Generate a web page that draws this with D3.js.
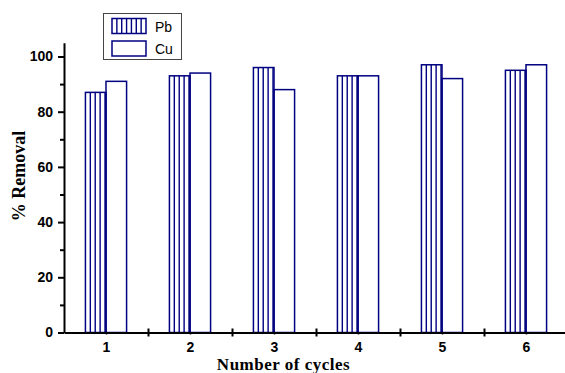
<!DOCTYPE html>
<html>
<head>
<meta charset="utf-8">
<script src="https://cdn.jsdelivr.net/npm/d3@7"></script>
<style>
  html, body { margin: 0; padding: 0; background: #fff; }
  svg { display: block; }
</style>
</head>
<body>
<svg id="chart" width="565" height="373"></svg>
<script>
// Removal efficiency over repeated adsorption cycles
const cycles = [1, 2, 3, 4, 5, 6];
const pbValues = [87, 93, 96, 93, 97, 95];
const cuValues = [91, 94, 88, 93, 92, 97];
const seriesNames = ["Pb", "Cu"];
const yMajorTicks = [0, 20, 40, 60, 80, 100];
const yMinorTicks = [10, 30, 50, 70, 90];

const navy = "#000080";
const svg = d3.select("#chart");

const x = d3.scaleLinear().domain([0.5, 6.5]).range([64, 568]);
const y = d3.scaleLinear().domain([0, 105]).range([332.5, 42.7]);
const barW = 0.245; // bar width in category units

const bars = svg.append("g");

// Pb bars (vertical hatching), left of each cycle position
cycles.forEach((c, i) => {
  const x0 = x(c - barW), x1 = x(c);
  const top = y(pbValues[i]), bottom = y(0);
  const g = bars.append("g");
  const step = (x1 - x0) / 4.2;
  d3.range(1, 5).forEach(k => {
    g.append("line")
      .attr("x1", x0 + k * step).attr("x2", x0 + k * step)
      .attr("y1", top).attr("y2", bottom)
      .attr("stroke", navy).attr("stroke-width", 1.4);
  });
  g.append("rect")
    .attr("x", x0).attr("y", top)
    .attr("width", x1 - x0).attr("height", bottom - top)
    .attr("fill", "none").attr("stroke", navy).attr("stroke-width", 1.5);
});

// Cu bars (open), right of each cycle position
cycles.forEach((c, i) => {
  const x0 = x(c), x1 = x(c + barW);
  const top = y(cuValues[i]), bottom = y(0);
  bars.append("rect")
    .attr("x", x0).attr("y", top)
    .attr("width", x1 - x0).attr("height", bottom - top)
    .attr("fill", "none").attr("stroke", navy).attr("stroke-width", 1.5);
});

const labelFont = "'Liberation Sans', Arial, sans-serif";
const titleFont = "'Liberation Serif', 'Times New Roman', serif";

// Y axis: major ticks with labels, shorter minor ticks
const yAxis = svg.append("g").attr("transform", `translate(${x(0.5)},0)`)
  .call(d3.axisLeft(y).tickValues(yMajorTicks).tickSize(6).tickSizeOuter(0).tickPadding(5));
yAxis.select(".domain").attr("stroke", "#000").attr("stroke-width", 2);
yAxis.selectAll(".tick line").attr("stroke", "#000").attr("stroke-width", 2);
yAxis.selectAll(".tick text")
  .attr("font-family", labelFont).attr("font-weight", "bold").attr("font-size", 14).attr("fill", "#000");

const yMinor = svg.append("g").attr("transform", `translate(${x(0.5)},0)`)
  .call(d3.axisLeft(y).tickValues(yMinorTicks).tickSize(4).tickFormat(""));
yMinor.select(".domain").remove();
yMinor.selectAll(".tick line").attr("stroke", "#000").attr("stroke-width", 2);

// X axis: category labels with short ticks; boundary ticks crossing the axis line
const xAxis = svg.append("g").attr("transform", `translate(0,${y(0)})`)
  .call(d3.axisBottom(x).tickValues(cycles).tickSize(2).tickSizeOuter(0).tickPadding(8).tickFormat(d3.format("d")));
xAxis.select(".domain").attr("stroke", "#000").attr("stroke-width", 2);
xAxis.selectAll(".tick line").attr("stroke", "#000").attr("stroke-width", 1.5);
xAxis.selectAll(".tick text")
  .attr("font-family", labelFont).attr("font-weight", "bold").attr("font-size", 14).attr("fill", "#000");

const xMajor = svg.append("g").attr("transform", `translate(0,${y(0)})`)
  .call(d3.axisBottom(x).tickValues([1.5, 2.5, 3.5, 4.5, 5.5]).tickSize(4).tickFormat(""));
xMajor.select(".domain").remove();
xMajor.selectAll(".tick line").attr("y1", -4).attr("y2", 4).attr("stroke", "#000").attr("stroke-width", 2);

// Axis titles
svg.append("text")
  .attr("x", 283.5).attr("y", 369.8)
  .attr("text-anchor", "middle")
  .attr("font-family", titleFont).attr("font-weight", "bold").attr("font-size", 17)
  .attr("letter-spacing", 0.5)
  .text("Number of cycles");

svg.append("text")
  .attr("transform", "translate(24.5,176) rotate(-90)")
  .attr("text-anchor", "middle")
  .attr("font-family", titleFont).attr("font-weight", "bold").attr("font-size", 18)
  .text("% Removal");

// Legend
const legend = svg.append("g");
legend.append("rect")
  .attr("x", 103.5).attr("y", 13.5).attr("width", 78).attr("height", 46)
  .attr("fill", "#fff").attr("stroke", "#444").attr("stroke-width", 1);

const sw = { x: 112, w: 34, h: 15 };
seriesNames.forEach((name, i) => {
  const sy = 18.5 + i * 22.5;
  if (i === 0) {
    const step = sw.w / 7;
    d3.range(1, 7).forEach(k => {
      legend.append("line")
        .attr("x1", sw.x + k * step).attr("x2", sw.x + k * step)
        .attr("y1", sy).attr("y2", sy + sw.h)
        .attr("stroke", navy).attr("stroke-width", 1.4);
    });
  }
  legend.append("rect")
    .attr("x", sw.x).attr("y", sy).attr("width", sw.w).attr("height", sw.h)
    .attr("fill", "none").attr("stroke", navy).attr("stroke-width", 1.5);
  legend.append("text")
    .attr("x", 155).attr("y", sy + 13)
    .attr("font-family", labelFont).attr("font-size", 14).attr("fill", "#000")
    .text(name);
});
</script>
</body>
</html>
